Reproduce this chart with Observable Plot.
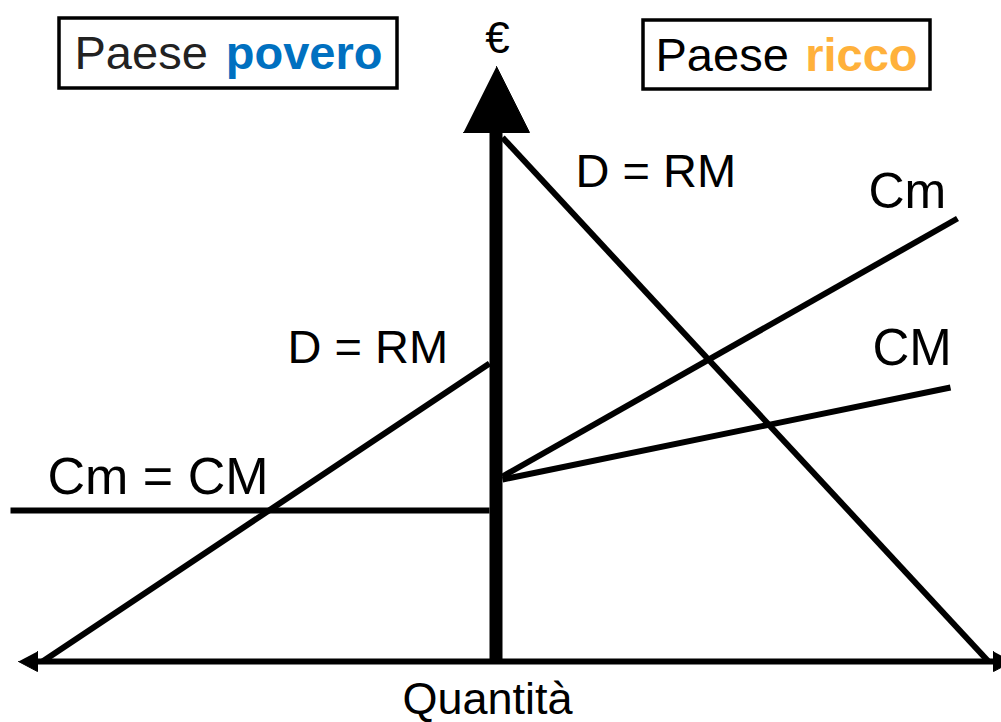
<!DOCTYPE html>
<html>
<head>
<meta charset="utf-8">
<script src="https://cdn.jsdelivr.net/npm/d3@7"></script>
<script src="https://cdn.jsdelivr.net/npm/@observablehq/plot@0.6"></script>
<style>
  html, body { margin: 0; padding: 0; background: #fff; }
  #chart svg { display: block; }
</style>
</head>
<body>
<div id="chart"></div>
<script>
// Coordinate system: q = quantity (left side = poor country, right = rich country), p = price (€)
const curveIds = ["poorD", "poorC", "richD", "richCm", "richCM"];
const curveQ = [[-453.5, -6.5], [-485.5, -6.5], [6.5, 492.5], [6.5, 461.5], [6.5, 454.5]];
const curveP = [[0, 298], [151, 151], [524, 0], [185, 443], [182, 274]];

const labelTexts = ["D = RM", "Cm", "CM", "D = RM", "Cm = CM"];
const labelQ = [79.5, 372.5, 376.5, -208.5, -448.5];
const labelP = [475, 454, 297, 299, 168];
const labelSizes = [47, 50, 51, 47, 52];

const boxTitles = ["Paese", "Paese"];
const boxHighlights = ["povero", "ricco"];
const boxColors = ["#0070c0", "#ffb13b"];
const boxQ1 = [-436.5, 147.5];
const boxQ2 = [-98.5, 434.5];
const boxP1 = [573, 572];
const boxP2 = [643, 641];
const boxTextQ1 = [-421.5, 159.5];
const boxTextQ2 = [-113.5, 421.5];
const boxTextP = [593, 591];

const axisYLabel = "€";
const axisXLabel = "Quantità";
const axisXRange = [-458.5, 497.5];
const axisYTop = 529;

// arrowheads (triangles)
const headIds = ["up", "left", "right"];
const headQ = [[-32.5, 33.5, 0.5], [-458.5, -458.5, -477.5], [497.5, 497.5, 516.5]];
const headP = [[529, 529, 595], [10, -10, 0], [10, -10, 0]];

const curves = curveIds.flatMap((id, i) => curveQ[i].map((q, j) => ({id, q, p: curveP[i][j]})));
const labels = labelTexts.map((t, i) => ({t, q: labelQ[i], p: labelP[i], s: labelSizes[i]}));
const boxes = boxTitles.map((t, i) => ({
  t, h: boxHighlights[i], c: boxColors[i],
  q1: boxQ1[i], q2: boxQ2[i], p1: boxP1[i], p2: boxP2[i],
  tq1: boxTextQ1[i], tq2: boxTextQ2[i], tp: boxTextP[i]
}));
const heads = headIds.flatMap((id, i) => headQ[i].map((q, j) => ({id, q, p: headP[i][j]})));

const font = "Liberation Sans, Arial, Helvetica, sans-serif";

const chart = Plot.plot({
  width: 1001,
  height: 722,
  marginTop: 0, marginRight: 0, marginBottom: 0, marginLeft: 0,
  x: {domain: [-495.5, 505.5], axis: null},
  y: {domain: [-61, 661], axis: null},
  style: {fontFamily: font, background: "#fff"},
  marks: [
    // horizontal axis
    Plot.ruleY([0], {x1: axisXRange[0], x2: axisXRange[1], stroke: "black", strokeWidth: 6}),
    // curves
    Plot.line(curves, {x: "q", y: "p", z: "id", stroke: "black", strokeWidth: 6, strokeLinecap: "butt", strokeLinejoin: "miter"}),
    // vertical axis
    Plot.ruleX([0], {y1: 0, y2: axisYTop, stroke: "black", strokeWidth: 13}),
    // arrowheads
    Plot.line(heads, {x: "q", y: "p", z: "id", fill: "black", stroke: "black", strokeWidth: 1}),
    // curve labels
    ...labels.map(l => Plot.text([l], {x: "q", y: "p", text: "t", textAnchor: "start", lineAnchor: "bottom", fontSize: l.s, fill: "black"})),
    // boxes
    Plot.rect(boxes, {x1: "q1", x2: "q2", y1: "p1", y2: "p2", fill: "none", stroke: "black", strokeWidth: 3.5}),
    Plot.text(boxes, {x: "tq1", y: "tp", text: "t", textAnchor: "start", lineAnchor: "bottom", fontSize: 47, fill: (d, i) => i === 0 ? "#222" : "#000"}),
    Plot.text(boxes, {x: "tq2", y: "tp", text: "h", textAnchor: "end", lineAnchor: "bottom", fontSize: 47, fontWeight: "bold", fill: "c"}),
    // axis labels
    Plot.text([axisYLabel], {x: 1.5, y: 609, text: d => d, textAnchor: "middle", lineAnchor: "bottom", fontSize: 44, fill: "black"}),
    Plot.text([axisXLabel], {x: -8.5, y: -52, text: d => d, textAnchor: "middle", lineAnchor: "bottom", fontSize: 45, fill: "black"})
  ]
});
document.getElementById("chart").appendChild(chart);
</script>
</body>
</html>
